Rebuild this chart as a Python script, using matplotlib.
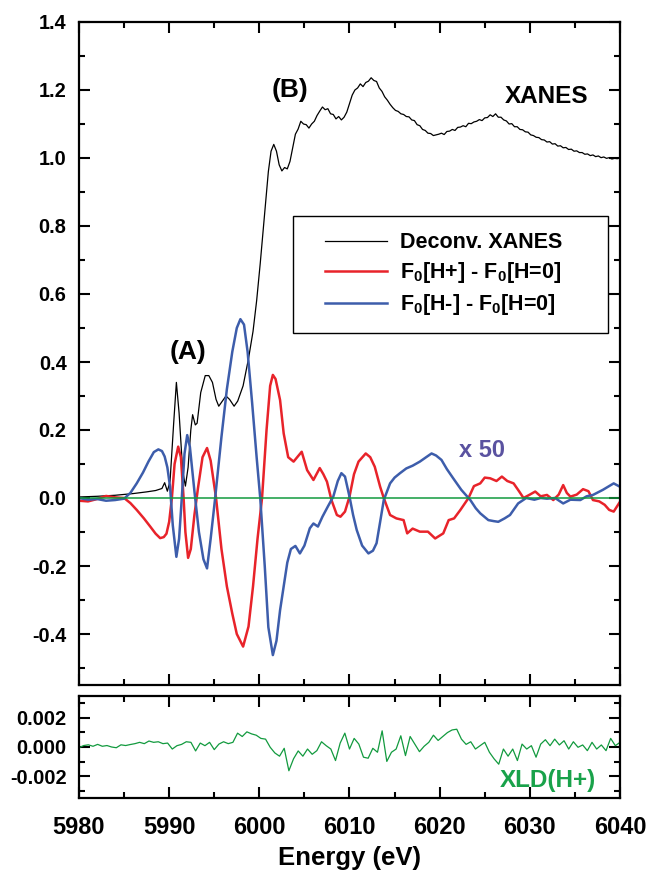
import numpy as np
import matplotlib
matplotlib.use("Agg")
import matplotlib.pyplot as plt
from matplotlib.ticker import MultipleLocator, FormatStrFormatter
from matplotlib.lines import Line2D
from matplotlib.legend_handler import HandlerLine2D

plt.rcParams['font.family'] = ['Liberation Sans', 'DejaVu Sans']
plt.rcParams['font.weight'] = 'bold'
plt.rcParams['axes.unicode_minus'] = False
plt.rcParams['mathtext.fontset'] = 'custom'
plt.rcParams['mathtext.rm'] = 'Liberation Sans:bold'
plt.rcParams['mathtext.bf'] = 'Liberation Sans:bold'
plt.rcParams['mathtext.default'] = 'rm'

# ---------------- data ----------------
xanes_E = [5980, 5982, 5984, 5986, 5987.5, 5988.5, 5989.2, 5989.5, 5989.8, 5990.1,
           5990.5, 5990.8, 5991.1, 5991.5, 5991.8, 5992.1, 5992.4, 5992.6, 5992.9, 5993.1,
           5993.5, 5994.0, 5994.4, 5994.8, 5995.2, 5995.5, 5995.9, 5996.3, 5996.7, 5997.2,
           5997.6, 5998.2, 5998.8, 5999.3, 5999.7, 6000.1, 6000.6, 6001.0, 6001.3, 6001.6,
           6001.9,
           6002.2, 6002.5, 6002.8, 6003.1, 6003.4, 6003.7, 6004.0, 6004.3, 6004.6, 6004.9,
           6005.2, 6005.5, 6005.8, 6006.1, 6006.4, 6006.7, 6007.0, 6007.3, 6007.6, 6007.9,
           6008.2, 6008.5, 6008.8, 6009.1, 6009.4, 6009.7, 6010.0, 6010.3, 6010.6, 6010.9,
           6011.2, 6011.5, 6011.8, 6012.1, 6012.4, 6012.7, 6013.0, 6013.3, 6013.6, 6013.9,
           6014.2, 6014.5, 6014.8, 6015.1, 6015.4, 6015.7, 6016.0, 6016.3, 6016.6, 6016.9,
           6017.2, 6017.5, 6017.8, 6018.1, 6018.4, 6018.7, 6019.0, 6019.3, 6019.6, 6019.9,
           6020.2, 6020.5, 6020.8, 6021.1, 6021.4, 6021.7, 6022.0, 6022.3, 6022.6, 6022.9,
           6023.2, 6023.5, 6023.8, 6024.1, 6024.4, 6024.7, 6025.0, 6025.3, 6025.6, 6025.9,
           6026.2, 6026.5, 6026.8, 6027.1, 6027.4, 6027.7, 6028.0, 6028.3, 6028.6, 6028.9,
           6029.2, 6029.5, 6029.8, 6030.1, 6030.4, 6030.7, 6031.0, 6031.3, 6031.6, 6031.9,
           6032.2, 6032.5, 6032.8, 6033.1, 6033.4, 6033.7, 6034.0, 6034.3, 6034.6, 6034.9,
           6035.2, 6035.5, 6035.8, 6036.1, 6036.4, 6036.7, 6037.0, 6037.3, 6037.6, 6037.9,
           6038.2, 6038.5, 6038.8, 6039.1, 6039.4, 6039.7, 6040.0]
xanes_val = [0.003, 0.005, 0.008, 0.013, 0.018, 0.022, 0.028, 0.045, 0.02, 0.05,
             0.22, 0.34, 0.25, 0.08, 0.035, 0.09, 0.2, 0.245, 0.215, 0.22,
             0.31, 0.36, 0.36, 0.34, 0.29, 0.27, 0.285, 0.30, 0.29, 0.27,
             0.285, 0.33, 0.41, 0.49, 0.58, 0.69, 0.84, 0.96, 1.02, 1.04,
             1.02,
             0.98, 0.962, 0.972, 0.968, 0.99, 1.03, 1.07, 1.085, 1.108, 1.1,
             1.098, 1.088, 1.1, 1.108, 1.125, 1.138, 1.15, 1.142, 1.145, 1.13,
             1.128, 1.115, 1.122, 1.112, 1.12, 1.135, 1.16, 1.185, 1.2, 1.206,
             1.218, 1.21, 1.222, 1.226, 1.236, 1.228, 1.225, 1.206, 1.196, 1.18,
             1.17, 1.158, 1.148, 1.14, 1.137, 1.13, 1.128, 1.122, 1.121, 1.112,
             1.11, 1.098, 1.095, 1.084, 1.081, 1.073, 1.072, 1.066, 1.068, 1.07,
             1.073, 1.069, 1.078, 1.079, 1.084, 1.081, 1.09, 1.091, 1.095, 1.092,
             1.102, 1.101, 1.106, 1.108, 1.113, 1.11, 1.118, 1.119, 1.127, 1.122,
             1.13, 1.12, 1.12, 1.112, 1.109, 1.1, 1.101, 1.092, 1.092, 1.084,
             1.083, 1.077, 1.076, 1.068, 1.066, 1.061, 1.06, 1.054, 1.053, 1.047,
             1.048, 1.041, 1.042, 1.035, 1.036, 1.03, 1.031, 1.025, 1.026, 1.02,
             1.021, 1.016, 1.016, 1.011, 1.012, 1.007, 1.009, 1.004, 1.006, 1.001,
             1.003, 0.999, 1.001, 0.997, 0.999, 0.998, 1.0]

hplus_E = [5980, 5981, 5982, 5983, 5984, 5985, 5985.7, 5986.4, 5987.2, 5987.9,
           5988.5, 5989.0, 5989.4, 5989.7, 5990.0, 5990.3, 5990.6, 5991.0, 5991.3, 5991.6,
           5991.8, 5992.1, 5992.4, 5992.8, 5993.2, 5993.7, 5994.2, 5994.6, 5995.2, 5995.8,
           5996.4, 5997.0, 5997.5, 5998.2, 5998.8, 5999.3, 5999.8, 6000.3, 6000.8, 6001.2,
           6001.5, 6001.8, 6002.3, 6002.7, 6003.2, 6003.8, 6004.2, 6004.7, 6005.3, 6006.0,
           6006.7, 6007.1, 6007.5, 6008.0, 6008.6, 6009.0, 6009.5, 6010.0, 6010.5, 6011.0,
           6011.8, 6012.3, 6012.8, 6013.4, 6013.8, 6014.5, 6015.2, 6016.0, 6016.4, 6017.0,
           6017.8, 6018.7, 6019.5, 6020.4, 6021.0, 6021.6, 6022.3, 6023.2, 6023.8, 6024.5,
           6025.0, 6025.6, 6026.3, 6026.9, 6027.5, 6028.2, 6028.8, 6029.3, 6030.0, 6030.6,
           6031.2, 6031.9, 6032.6, 6033.2, 6033.7, 6034.1, 6034.5, 6035.2, 6035.9, 6036.5,
           6037.0, 6037.7, 6038.3, 6038.8, 6039.3, 6040.0]
hplus_val = [-0.008, -0.01, -0.003, 0.006, 0.002, 0.0, -0.015, -0.035, -0.06, -0.084,
             -0.105, -0.118, -0.115, -0.105, -0.07, 0.0, 0.1, 0.151, 0.12, 0.0,
             -0.1, -0.176, -0.15, -0.05, 0.03, 0.12, 0.147, 0.11, 0.0, -0.15,
             -0.26, -0.34, -0.40, -0.437, -0.378, -0.26, -0.12, 0.0, 0.2, 0.33,
             0.362, 0.35, 0.288, 0.19, 0.12, 0.107, 0.12, 0.136, 0.082, 0.053,
             0.088, 0.07, 0.048, -0.006, -0.05, -0.055, -0.04, 0.004, 0.07, 0.107,
             0.131, 0.12, 0.092, 0.033, 0.0, -0.05, -0.06, -0.065, -0.104, -0.09,
             -0.099, -0.099, -0.119, -0.104, -0.065, -0.06, -0.035, 0.0, 0.035, 0.043,
             0.06, 0.058, 0.05, 0.063, 0.05, 0.043, 0.02, 0.0, 0.01, 0.019,
             0.005, 0.009, -0.006, 0.01, 0.038, 0.015, 0.004, 0.01, 0.026, 0.02,
             -0.006, -0.01, -0.02, -0.035, -0.04, -0.011]

hminus_E = [5980, 5981, 5982, 5983, 5984, 5985, 5985.7, 5986.4, 5987.1, 5987.7,
            5988.3, 5988.8, 5989.2, 5989.5, 5989.8, 5990.1, 5990.4, 5990.8, 5991.1, 5991.4,
            5991.7, 5992.0, 5992.3, 5992.8, 5993.3, 5993.8, 5994.2, 5994.6, 5995.1, 5995.8,
            5996.4, 5997.0, 5997.5, 5997.9, 5998.3, 5998.7, 5999.2, 5999.7, 6000.1, 6000.6,
            6001.0, 6001.5, 6001.9, 6002.3, 6002.7, 6003.1, 6003.5, 6004.0, 6004.5, 6005.0,
            6005.6, 6006.0, 6006.5, 6007.0, 6007.6, 6008.2, 6008.7, 6009.1, 6009.5, 6010.0,
            6010.4, 6010.8, 6011.4, 6012.1, 6012.6, 6013.0, 6013.4, 6013.8, 6014.5, 6015.0,
            6015.6, 6016.3, 6017.0, 6017.8, 6018.5, 6019.1, 6019.6, 6020.2, 6020.8, 6021.5,
            6022.4, 6023.4, 6024.0, 6024.5, 6025.4, 6026.0, 6026.5, 6027.2, 6027.8, 6028.7,
            6029.6, 6030.5, 6031.2, 6031.9, 6032.8, 6033.7, 6034.5, 6035.6, 6036.3, 6037.0,
            6038.1, 6039.3, 6040.0]
hminus_val = [0.0, -0.005, -0.003, -0.008, -0.006, -0.002, 0.015, 0.043, 0.075, 0.107,
              0.135, 0.143, 0.138, 0.122, 0.09, 0.033, -0.08, -0.173, -0.12, 0.0,
              0.13, 0.185, 0.15, 0.02, -0.1, -0.18, -0.207, -0.12, 0.0, 0.18,
              0.32, 0.43, 0.50, 0.526, 0.51, 0.43, 0.28, 0.12, 0.0, -0.2,
              -0.38, -0.462, -0.42, -0.33, -0.26, -0.19, -0.15, -0.141, -0.163, -0.14,
              -0.089, -0.075, -0.084, -0.055, -0.025, 0.004, 0.05, 0.073, 0.063, 0.004,
              -0.05, -0.094, -0.14, -0.163, -0.155, -0.133, -0.07, -0.006, 0.043, 0.06,
              0.073, 0.087, 0.095, 0.107, 0.12, 0.131, 0.125, 0.112, 0.085, 0.058,
              0.024, -0.006, -0.03, -0.045, -0.065, -0.068, -0.07, -0.06, -0.05, -0.016,
              0.0, -0.005, 0.0, -0.002, 0.0, -0.016, -0.005, -0.006, 0.005, 0.009,
              0.024, 0.043, 0.033]

# XLD(H+) in units of 1e-3, read on an even energy grid from 5980 to 6040 eV
xld_milli = [-0.05, 0.1, 0.15, 0.05, 0.18, 0.05, 0.1, 0.0, -0.05, 0.15,
             0.1, 0.17, 0.23, 0.32, 0.23, 0.41, 0.32, 0.36, 0.23, 0.27,
             -0.14, 0.09, 0.18, 0.36, 0.32, -0.27, 0.27, 0.09, 0.32, -0.18,
             0.2, 0.36, 0.23, 0.32, 0.95, 0.72, 1.04, 0.9, 0.81, 0.59,
             0.54, -0.02, -0.41, -0.63, -0.09, -1.63, -0.81, -0.27, -0.63, -0.14,
             -0.5, -0.25, 0.36, 0.09, -0.14, -0.93, 0.27, 0.95, -0.14, 0.59,
             0.2, -0.7, -0.77, -0.09, -0.36, 1.11, -0.99, -0.36, -0.14, 0.77,
             -0.59, 0.72, 0.2, -0.32, 0.05, 0.32, 0.81, 0.45, 0.72, 0.99,
             1.17, 1.22, 0.54, 0.18, 0.36, -0.14, 0.09, 0.32, -0.36, -0.81,
             -1.18, -0.14, -0.63, -0.14, -0.93, 0.2, -0.14, 0.09, -0.7, 0.2,
             0.5, 0.09, 0.54, 0.14, 0.43, -0.14, 0.36, -0.02, 0.14, -0.25,
             0.32, -0.14, 0.14, -0.25, 0.59, 0.09, 0.32]
xld_E = np.linspace(5980, 6040, len(xld_milli))
xld_val = np.array(xld_milli) * 1e-3

x_ticks = [5980, 5990, 6000, 6010, 6020, 6030, 6040]

# ---------------- style ----------------
RED = '#e8232a'
BLUE = '#3d5dab'
GREEN = '#129a3e'
PURPLE = '#5a52a0'
TXTGREEN = '#19a24a'

W, H = 647, 874
fig = plt.figure(figsize=(W / 100, H / 100), dpi=100)
L, R = 79, 620
ax1 = fig.add_axes([L / W, 1 - 685 / H, (R - L) / W, (685 - 22) / H])
ax2 = fig.add_axes([L / W, 1 - 798 / H, (R - L) / W, (798 - 696) / H])

for ax in (ax1, ax2):
    for s in ax.spines.values():
        s.set_linewidth(1.6)
    ax.tick_params(which='both', direction='in', top=True, right=True, width=1.5,
                   labelsize=14.3)
    ax.tick_params(which='major', length=8)
    ax.tick_params(which='minor', length=4.5)
    ax.set_xlim(5980, 6040)
    ax.xaxis.set_major_locator(MultipleLocator(10))
    ax.xaxis.set_minor_locator(MultipleLocator(5))
    ax.tick_params(axis='y', pad=9)

# top panel
ax1.plot(xanes_E, xanes_val, color='black', lw=0.9, label='Deconv. XANES')
ax1.plot(hplus_E, hplus_val, color=RED, lw=1.8, label=r'F$_0$[H+] - F$_0$[H=0]')
ax1.plot(hminus_E, hminus_val, color=BLUE, lw=1.8, label=r'F$_0$[H-] - F$_0$[H=0]')
ax1.axhline(0, color=GREEN, lw=1.1)
ax1.set_ylim(-0.55, 1.4)
ax1.yaxis.set_major_locator(MultipleLocator(0.2))
ax1.yaxis.set_minor_locator(MultipleLocator(0.1))
ax1.yaxis.set_major_formatter(FormatStrFormatter('%.1f'))
ax1.tick_params(axis='x', labelbottom=False)

leg = ax1.legend(loc='upper left', bbox_to_anchor=(0.3956, 0.7074, 0.5822, 0.0),
                 mode='expand', fontsize=15.5, frameon=True, fancybox=False,
                 edgecolor='black', borderpad=0.75, handlelength=3.6,
                 handletextpad=0.6, labelspacing=0.33, borderaxespad=0,
                 handler_map={Line2D: HandlerLine2D(xpad=0.74)})
leg.get_frame().set_linewidth(1.0)
leg.get_frame().set_alpha(1)

ax1.text(5992.1, 0.43, '(A)', fontsize=19, fontweight='bold', ha='center', va='center')
ax1.text(6003.4, 1.2, '(B)', fontsize=19, fontweight='bold', ha='center', va='center')
ax1.text(6031.9, 1.18, 'XANES', fontsize=17.5, fontweight='bold', ha='center', va='center')
ax1.text(6024.7, 0.141, 'x 50', fontsize=17, fontweight='bold', ha='center', va='center',
         color=PURPLE)

# bottom panel
ax2.plot(xld_E, xld_val, color=GREEN, lw=0.9)
ax2.set_ylim(-0.0035, 0.0035)
ax2.yaxis.set_major_locator(MultipleLocator(0.002))
ax2.yaxis.set_minor_locator(MultipleLocator(0.001))
ax2.yaxis.set_major_formatter(FormatStrFormatter('%.3f'))
ax2.set_xticks(x_ticks)
ax2.tick_params(axis='x', labelsize=17, pad=13)
ax2.set_xlabel('Energy (eV)', fontsize=18.5, fontweight='bold', labelpad=5)
ax2.text(6032.0, -0.0023, 'XLD(H+)', fontsize=17.5, fontweight='bold', ha='center',
         va='center', color=TXTGREEN)

fig.savefig('out.png', dpi=100)
